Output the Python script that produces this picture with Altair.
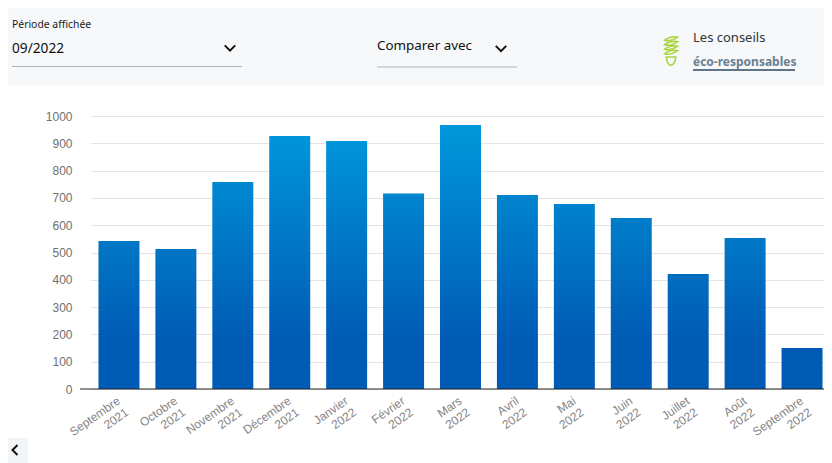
import altair as alt
import pandas as pd

months = ["Septembre 2021", "Octobre 2021", "Novembre 2021", "Décembre 2021", "Janvier 2022",
          "Février 2022", "Mars 2022", "Avril 2022", "Mai 2022", "Juin 2022", "Juillet 2022",
          "Août 2022", "Septembre 2022"]
values = [542, 513, 758, 927, 908, 716, 967, 711, 678, 626, 421, 553, 150]
y_ticks = [0, 100, 200, 300, 400, 500, 600, 700, 800, 900, 1000]

W, H = 744, 273
OX, OY = 80, 116  # plot origin on the page


def px(x):
    return alt.value(x - OX)


def py(y):
    return alt.value(y - OY)


BOTTOM = (0, 91, 181)
TOP = (0, 155, 220)
FLAT_BELOW = 180.0
TOP_AT = 1000.0


def hexc(t):
    return "#%02x%02x%02x" % tuple(round(a + (b - a) * t) for a, b in zip(BOTTOM, TOP))


def grad_for(v):
    if v > FLAT_BELOW:
        t = (v - FLAT_BELOW) / (TOP_AT - FLAT_BELOW)
        stops = [alt.GradientStop(offset=0, color=hexc(t)),
                 alt.GradientStop(offset=1 - FLAT_BELOW / v, color=hexc(0)),
                 alt.GradientStop(offset=1, color=hexc(0))]
    else:
        stops = [alt.GradientStop(offset=0, color=hexc(0)), alt.GradientStop(offset=1, color=hexc(0))]
    return alt.Gradient(gradient="linear", stops=stops, x1=0, x2=0, y1=0, y2=1)


x_scale = alt.Scale(domain=months, range=[10.5, 750.5], paddingInner=0.28, paddingOuter=0.14)
y_scale = alt.Scale(domain=[0, 1000], range=[H, 0], nice=False)
x_axis = alt.Axis(
    domain=False, ticks=False, labelAngle=-35, labelAlign="right", labelBaseline="middle",
    labelPadding=10, labelFont="Liberation Sans", labelFontSize=12, labelColor="#858585",
    labelOverlap=False, labelBound=False, labelExpr="split(datum.label, ' ')", labelLineHeight=14)
y_axis = alt.Axis(
    values=y_ticks, format="d", domain=False, ticks=False, grid=True, gridColor="#e4e4e4", gridWidth=1,
    labelPadding=8, labelFont="Liberation Sans", labelFontSize=12, labelColor="#707070")
df = pd.DataFrame({"mois": months, "conso": values})

bars = [
    alt.Chart(df[df.mois == m]).mark_bar(color=grad_for(v)).encode(
        x=alt.X("mois:N", scale=x_scale, sort=months, title=None, axis=x_axis),
        y=alt.Y("conso:Q", scale=y_scale, title=None, axis=y_axis),
    )
    for m, v in zip(months, values)
]

one = pd.DataFrame({"k": [0]})


def rect(x0, x1, y0, y1, color):
    return alt.Chart(one).mark_rect(color=color, clip=False).encode(x=px(x0), x2=px(x1), y=py(y0), y2=py(y1))


def hline(x0, x1, y, color, w=1):
    return alt.Chart(one).mark_rule(color=color, strokeWidth=w, clip=False).encode(x=px(x0), x2=px(x1), y=py(y))


def label(txt, x, y, size, color="#1a1a1a", weight="normal"):
    return alt.Chart(one).mark_text(text=txt, align="left", baseline="alphabetic", font="Noto Sans",
                                    fontSize=size, color=color, fontWeight=weight, clip=False).encode(x=px(x), y=py(y))


CHEVRON = "M-1,-0.5L0,0.5L1,-0.5"


def chevron(x, y, size=110, path=CHEVRON):
    return alt.Chart(one).mark_point(shape=path, filled=False, color="#111111", strokeWidth=2, size=size,
                                     opacity=1, clip=False).encode(x=px(x), y=py(y))


BULB_COILS = "".join(
    f"M-0.42,{y + 0.1}Q0,{y - 0.22} 0.45,{y - 0.1}Q0,{y + 0.22} -0.42,{y + 0.1}Z"
    for y in (-0.82, -0.52, -0.22, 0.08)
)
BULB_BASE = "M-0.32,0.4L0.32,0.4L0.28,0.62Q0.2,0.92 0,0.95Q-0.2,0.92 -0.28,0.62Z"


def bulb(path, filled=False):
    return alt.Chart(one).mark_point(shape=path, filled=filled, color="#a9d53b", strokeWidth=1.5, size=900,
                                     opacity=1, clip=False).encode(x=px(671), y=py(51))


header = [
    rect(8, 824, 8, 86, "#f6f8fa"),
    label("Période affichée", 12, 28, 10.4),
    label("09/2022", 12, 53, 13.7, "#111111"),
    chevron(230, 48),
    hline(12, 242, 66.5, "#aab4bf"),
    label("Comparer avec", 377, 50, 13.4, "#111111"),
    chevron(501, 48.5),
    hline(377, 517, 67, "#aab4bf"),
    bulb(BULB_COILS),
    bulb(BULB_BASE),
    label("Les conseils", 693, 42, 13, "#333333"),
    label("éco-responsables", 693, 66, 12, "#6b7f93", "bold"),
    hline(693, 795, 70, "#5f7488", 2),
    rect(8, 28, 438, 463, "#f2f5f8"),
    chevron(15, 450, 100, "M0.5,-1L-0.5,0L0.5,1"),
]

baseline = alt.Chart(one).mark_rule(color="#222222", strokeWidth=1).encode(
    x=alt.value(0), x2=alt.value(W), y=alt.value(H))

chart = alt.layer(*bars, baseline, *header).properties(
    width=W, height=H,
    autosize=alt.AutoSizeParams(type="none"),
    padding={"left": 72, "top": 108, "right": 0, "bottom": 74},
).configure_view(stroke=None)

chart.save("out.html", embed_options={"renderer": "svg", "actions": False})
